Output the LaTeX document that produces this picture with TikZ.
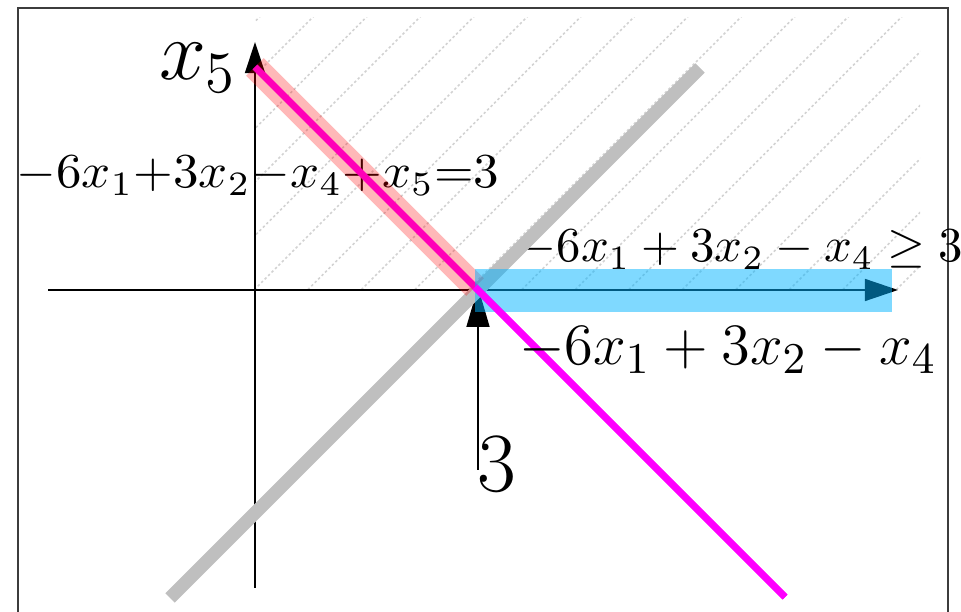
\documentclass[tikz,border=0pt]{standalone}
\usetikzlibrary{arrows.meta}
\usepackage{graphicx}
\definecolor{bandcyan}{RGB}{0,179,255}
\definecolor{hatchgray}{RGB}{210,210,210}
\definecolor{framegray}{RGB}{60,60,60}
\definecolor{puremagenta}{RGB}{255,0,255}
\definecolor{pinkred}{RGB}{255,0,0}
\begin{document}
\begin{tikzpicture}[x=0.205pt,y=-0.205pt,
  axis/.style={line width=0.4pt, black},
  hatchline/.style={hatchgray, line width=0.3pt, dash pattern=on 0.5pt off 0.5pt},
  grayline/.style={lightgray, line width=2.7pt},
  pinkband/.style={pinkred, opacity=0.28, line width=5.1pt},
  cyanband/.style={bandcyan, opacity=0.5, line width=8.8pt},
  magline/.style={puremagenta, line width=1.4pt},
  lbl/.style={inner sep=0pt, anchor=base}]
\useasboundingbox (0,0) rectangle (961,612);
\clip (0,0) rectangle (961,612);
% frame
\draw[line width=0.5pt, framegray] (18,8) rectangle (948,640);
% hatching
\begin{scope}
  \clip (255,18) rectangle (920,290);
  \foreach \cc in {276.5,330,...,1240} {
    \draw[hatchline] ({\cc-300},300) -- ({\cc+20},-20);
  }
\end{scope}
% axes
\coordinate (xs) at (48,290);
\coordinate (xe) at (898,290);
\coordinate (ys) at (255,588);
\coordinate (ye) at (255,42);
\coordinate (ts) at (478,470);
\coordinate (te) at (478,287);
\draw[axis, -{Triangle[length=6.8pt,width=4.5pt]}] (xs) -- (xe);
\draw[axis, -{Triangle[length=6.4pt,width=4.1pt]}] (ys) -- (ye);
\draw[axis, -{Triangle[length=8.2pt,width=4.7pt]}] (ts) -- (te);
% labels behind bands
\node[font=\LARGE] (x5) at (198,68) {$x_5$};
\node[lbl, font=\fontsize{10.4}{12}\selectfont] (eq) at (258,188) {\scalebox{1.045}[1]{$-6x_1{+}3x_2{-}x_4{+}x_5{=}3$}};
\node[lbl] (ineq) at (741,262) {$-6x_1+3x_2-x_4\geq 3$};
% lines
\coordinate (g1) at (170,598);
\coordinate (g2) at (700,68);
\coordinate (m1) at (255,67);
\coordinate (m2) at (785,597);
\coordinate (pe) at (475,287);
\coordinate (c1) at (475,290.5);
\coordinate (c2) at (892,290.5);
\draw[grayline] (g1) -- (g2);
\draw[magline] (m1) -- (m2);
\draw[pinkband] (m1) -- (pe);
\draw[cyanband] (c1) -- (c2);
\draw[magline] (pe) -- (m2);
% front labels
\node[lbl, font=\fontsize{12.7}{15}\selectfont] (lhs) at (728,365) {$-6x_1+3x_2-x_4$};
\node[lbl, font=\LARGE] (three) at (497,492) {$3$};
\end{tikzpicture}
\end{document}
